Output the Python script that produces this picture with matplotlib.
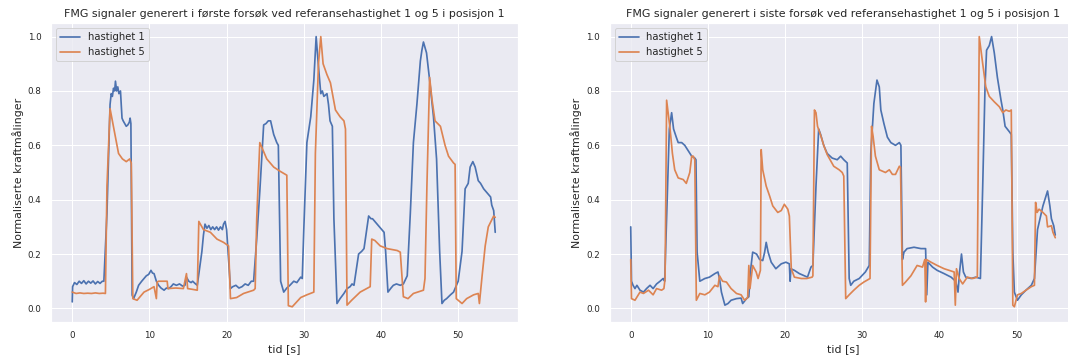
import matplotlib
matplotlib.use("Agg")
import matplotlib.pyplot as plt
import seaborn as sns

sns.set_theme()
plt.rcParams['font.family'] = ['DejaVu Sans']

title_first = "FMG signaler generert i første forsøk ved referansehastighet 1 og 5 i posisjon 1"
title_last = "FMG signaler generert i siste forsøk ved referansehastighet 1 og 5 i posisjon 1"
xlabel = "tid [s]"
ylabel = "Normaliserte kraftmålinger"
legend_labels = ["hastighet 1", "hastighet 5"]
xticks = [0, 10, 20, 30, 40, 50]
yticks = [0.0, 0.2, 0.4, 0.6, 0.8, 1.0]

# ---- first trial, speed 1 ----
t_first_h1 = [0.0, 0.05, 0.3, 0.6, 0.9, 1.2, 1.5, 1.8, 2.1, 2.4, 2.7, 3.0, 3.3, 3.6, 3.9, 4.1,
              4.5, 4.9, 5.05, 5.2, 5.35, 5.5, 5.6, 5.75, 5.9, 6.05, 6.25, 6.35, 6.45, 6.6, 6.8, 7.0, 7.2, 7.4, 7.5, 7.6,
              7.76,
              7.95, 8.3, 8.6, 9.0, 9.3, 9.6, 9.9, 10.2, 10.4, 10.6, 10.9, 11.2, 11.5, 11.9, 12.2, 12.5, 12.8, 13.1, 13.5,
              13.9, 14.3, 14.6, 14.8, 15.1, 15.4, 15.6, 15.9, 16.2,
              16.8, 17.0, 17.2, 17.45, 17.7, 17.95, 18.2, 18.45, 18.7, 18.95, 19.2, 19.45, 19.6, 19.8, 20.0, 20.5,
              20.8, 21.2, 21.6, 22.0, 22.4, 22.8, 23.2, 23.5, 23.9, 24.3, 24.8, 25.1, 25.4, 25.7, 26.1, 26.5, 26.7,
              27.0, 27.4, 27.8, 28.2, 28.7, 29.1, 29.6, 29.8, 30.0, 30.4, 30.9, 31.3, 31.6, 31.9, 32.2, 32.4, 32.6, 32.8,
              33.0, 33.2, 33.4, 33.7, 33.9, 34.3, 34.7, 35.2, 35.6, 36.0, 36.25, 36.5, 37.1, 37.5, 37.8, 38.1, 38.4, 38.7,
              38.9, 39.2, 39.5, 39.8, 40.1, 40.4, 40.6, 40.9, 41.3, 41.6, 42.0, 42.5, 42.9, 43.4, 43.8, 44.2, 44.65, 45.1,
              45.3, 45.5, 45.7, 45.9, 46.3, 46.8, 47.2, 47.6, 47.9, 48.2, 48.5, 49.0, 49.4, 49.7, 50.0, 50.5, 50.9, 51.1,
              51.3, 51.55, 51.9, 52.2, 52.6, 52.9, 53.3, 53.6, 53.9, 54.2, 54.35, 54.6, 54.8]
v_first_h1 = [0.024, 0.08, 0.095, 0.088, 0.1, 0.092, 0.102, 0.09, 0.1, 0.093, 0.101, 0.09, 0.099, 0.092, 0.1, 0.1,
              0.35, 0.75, 0.79, 0.78, 0.81, 0.80, 0.836, 0.80, 0.815, 0.79, 0.80, 0.75, 0.70, 0.69, 0.68, 0.67, 0.675,
              0.685, 0.70, 0.68, 0.049,
              0.036, 0.06, 0.085, 0.10, 0.11, 0.12, 0.125, 0.14, 0.13, 0.128, 0.10, 0.085, 0.075, 0.067, 0.075, 0.073,
              0.08, 0.09, 0.085, 0.09, 0.082, 0.085, 0.115, 0.10, 0.095, 0.10, 0.092, 0.085,
              0.21, 0.27, 0.31, 0.295, 0.305, 0.29, 0.30, 0.29, 0.30, 0.288, 0.30, 0.29, 0.31, 0.32, 0.29, 0.073,
              0.08, 0.085, 0.075, 0.08, 0.09, 0.085, 0.1, 0.1, 0.255, 0.43, 0.675, 0.68, 0.69, 0.69, 0.64, 0.61, 0.60,
              0.1, 0.06, 0.075, 0.085, 0.1, 0.095, 0.115, 0.11, 0.29, 0.61, 0.705, 0.84, 1.0, 0.89, 0.79, 0.80, 0.78, 0.785,
              0.79, 0.75, 0.69, 0.67, 0.33, 0.018, 0.036, 0.055, 0.073, 0.08, 0.09, 0.085, 0.2, 0.21, 0.22, 0.28, 0.34,
              0.33, 0.33, 0.32, 0.31, 0.30, 0.29, 0.28, 0.21, 0.06, 0.075, 0.085, 0.09, 0.085, 0.09, 0.12, 0.35, 0.61, 0.75,
              0.91, 0.95, 0.98, 0.96, 0.94, 0.84, 0.705, 0.55, 0.21, 0.018, 0.03, 0.036, 0.05, 0.06, 0.08, 0.1, 0.21, 0.44,
              0.45, 0.46, 0.52, 0.54, 0.52, 0.47, 0.46, 0.44, 0.43, 0.42, 0.41, 0.38, 0.36, 0.28]

# ---- first trial, speed 5 ----
t_first_h5 = [0.0, 0.5, 1.0, 1.5, 2.0, 2.5, 3.0, 3.5, 4.0, 4.3, 4.5, 4.9, 5.2, 5.6, 6.0, 6.5, 7.0, 7.45, 7.65, 7.85,
              8.4, 9.3, 10.0, 10.6, 10.9, 11.0, 11.2, 12.3, 12.4, 13.4, 14.4, 14.8, 14.95, 15.6, 16.2, 16.4, 17.0, 17.9,
              18.75, 19.6, 20.25, 20.5, 21.3, 22.2, 23.5, 23.7, 23.9, 24.3, 24.6, 25.2, 26.1, 26.9, 27.8, 28.0, 28.5,
              29.6, 30.4, 31.3, 31.5, 31.9, 32.2, 32.5, 33.0, 33.45, 34.1, 34.7, 35.2, 35.4, 35.6, 36.2, 37.3, 38.6,
              38.8, 39.2, 39.9, 40.8, 42.1, 42.5, 42.9, 43.5, 44.2, 45.5, 45.7, 45.95, 46.3, 46.6, 47.0, 47.7, 48.3,
              48.75, 49.4, 49.6, 49.75, 50.5, 51.1, 52.0, 52.6, 52.75, 53.1, 53.5, 53.9, 54.6, 54.8]
v_first_h5 = [0.06, 0.055, 0.057, 0.055, 0.056, 0.055, 0.057, 0.055, 0.056, 0.055, 0.45, 0.735, 0.69, 0.63, 0.57, 0.55,
              0.54, 0.55, 0.535, 0.036, 0.03, 0.06, 0.07, 0.08, 0.036, 0.097, 0.1, 0.1, 0.073, 0.075, 0.073, 0.128, 0.073,
              0.07, 0.067, 0.32, 0.29, 0.28, 0.255, 0.243, 0.23, 0.036, 0.04, 0.055, 0.067, 0.073, 0.33, 0.61, 0.59, 0.55,
              0.52, 0.505, 0.49, 0.01, 0.006, 0.04, 0.05, 0.06, 0.57, 0.9, 1.0, 0.9, 0.86, 0.83, 0.73, 0.705, 0.69, 0.66,
              0.012, 0.03, 0.06, 0.08, 0.255, 0.25, 0.23, 0.22, 0.213, 0.207, 0.043, 0.036, 0.055, 0.067, 0.11, 0.45,
              0.85, 0.77, 0.69, 0.67, 0.6, 0.56, 0.535, 0.53, 0.036, 0.018, 0.036, 0.05, 0.055, 0.018, 0.12, 0.23, 0.3,
              0.34, 0.335]

# ---- last trial, speed 1 ----
t_last_h1 = [0.0, 0.1, 0.3, 0.55, 0.8, 1.2, 1.65, 2.05, 2.5, 2.9, 3.35, 3.8, 4.2, 4.4, 4.65, 5.0, 5.3, 5.55, 5.9, 6.15, 6.6,
             7.0, 7.45, 7.9, 8.3, 8.45, 8.6, 8.95, 9.6, 10.2, 10.9, 11.3, 11.5, 11.75, 12.2, 12.6, 13.0, 13.7, 14.3, 14.5,
             15.0, 15.3, 15.5, 15.8, 16.3, 16.7, 17.1, 17.35, 17.55, 17.8, 18.2, 18.8, 19.5, 20.1, 20.55, 20.65, 20.75,
             21.2, 21.85, 22.5, 22.9, 23.35, 23.6, 24.0, 24.35, 24.6, 25.0, 25.45, 26.1, 26.75, 27.2, 27.6, 28.05, 28.3,
             28.5, 28.9, 29.6, 30.4, 30.9, 31.1, 31.5, 31.9, 32.2, 32.4, 32.8, 33.25, 33.7, 34.3, 34.8, 35.0, 35.2, 35.4,
             35.8, 36.7, 37.6, 38.2, 38.35, 38.5, 39.1, 39.7, 40.6, 41.5, 42.1, 42.4, 42.6, 42.85, 43.1, 43.4, 44.1, 44.7,
             45.3, 45.6, 45.9, 46.1, 46.45, 46.75, 47.1, 47.5, 47.97, 48.2, 48.5, 49.05, 49.3, 49.5, 49.7, 50.1, 50.6, 51.2,
             51.9, 52.3, 52.7, 53.4, 54.0, 54.3, 54.5, 54.8, 55.0]
v_last_h1 = [0.30, 0.1, 0.085, 0.073, 0.085, 0.067, 0.06, 0.073, 0.085, 0.073, 0.09, 0.1, 0.11, 0.1, 0.33, 0.66, 0.72, 0.66,
             0.63, 0.61, 0.61, 0.6, 0.58, 0.56, 0.553, 0.547, 0.207, 0.1, 0.11, 0.115, 0.128, 0.134, 0.11, 0.06, 0.012, 0.018,
             0.03, 0.036, 0.038, 0.018, 0.036, 0.043, 0.134, 0.207, 0.2, 0.18, 0.176, 0.207, 0.243, 0.207, 0.17, 0.146, 0.164,
             0.17, 0.164, 0.1, 0.146, 0.14, 0.128, 0.12, 0.115, 0.152, 0.158, 0.45, 0.66, 0.64, 0.6, 0.57, 0.553, 0.547, 0.56,
             0.547, 0.535, 0.11, 0.085, 0.1, 0.11, 0.134, 0.158, 0.57, 0.754, 0.84, 0.815, 0.73, 0.68, 0.63, 0.61, 0.6, 0.61,
             0.6, 0.18, 0.207, 0.22, 0.225, 0.22, 0.22, 0.05, 0.17, 0.152, 0.14, 0.128, 0.115, 0.1, 0.06, 0.134, 0.2, 0.134,
             0.115, 0.11, 0.115, 0.11, 0.45, 0.815, 0.95, 0.967, 1.0, 0.94, 0.85, 0.766, 0.73, 0.67, 0.65, 0.64, 0.207, 0.06,
             0.03, 0.05, 0.067, 0.085, 0.11, 0.29, 0.377, 0.432, 0.377, 0.33, 0.304, 0.27]

# ---- last trial, speed 5 ----
t_last_h5 = [0.0, 0.1, 0.55, 1.2, 1.65, 2.3, 2.9, 3.35, 4.0, 4.3, 4.45, 4.65, 5.1, 5.4, 5.7, 6.15, 6.8, 7.2, 7.65, 7.9, 8.1,
             8.3, 8.5, 8.95, 9.6, 10.2, 10.9, 11.3, 11.5, 11.9, 12.4, 13.0, 13.7, 14.3, 14.75, 15.15, 15.3, 15.45, 15.8,
             16.25, 16.5, 16.8, 16.9, 17.1, 17.55, 18.0, 18.4, 19.05, 19.5, 19.9, 20.35, 20.55, 20.7, 20.8, 21.2, 22.1,
             22.8, 23.5, 23.6, 23.8, 24.0, 24.2, 24.65, 25.0, 25.45, 26.3, 27.0, 27.4, 27.6, 27.85, 28.3, 28.9, 29.6, 30.2,
             31.0, 31.2, 31.4, 31.7, 32.2, 32.6, 33.0, 33.5, 33.9, 34.3, 34.8, 34.95, 35.2, 35.6, 36.3, 37.1, 37.8, 38.1,
             38.2, 38.3, 38.9, 39.7, 40.6, 41.25, 41.9, 42.05, 42.2, 42.55, 43.0, 43.6, 44.3, 44.9, 45.15, 45.6, 46.0,
             46.45, 47.1, 47.75, 48.2, 48.6, 49.05, 49.3, 49.5, 49.7, 50.1, 50.6, 51.2, 51.9, 52.3, 52.45, 52.65, 52.9,
             53.4, 53.85, 54.0, 54.5, 54.7, 55.0]
v_last_h5 = [0.18, 0.036, 0.03, 0.06, 0.055, 0.067, 0.05, 0.073, 0.067, 0.073, 0.11, 0.766, 0.66, 0.57, 0.51, 0.48, 0.474,
             0.46, 0.5, 0.56, 0.56, 0.547, 0.03, 0.055, 0.05, 0.06, 0.085, 0.08, 0.12, 0.1, 0.097, 0.073, 0.055, 0.05, 0.03,
             0.04, 0.158, 0.073, 0.158, 0.134, 0.11, 0.14, 0.584, 0.51, 0.45, 0.413, 0.377, 0.353, 0.36, 0.383, 0.365, 0.34,
             0.22, 0.146, 0.115, 0.11, 0.11, 0.115, 0.12, 0.73, 0.72, 0.67, 0.633, 0.6, 0.566, 0.523, 0.51, 0.5, 0.487,
             0.036, 0.05, 0.067, 0.085, 0.097, 0.11, 0.67, 0.633, 0.56, 0.51, 0.505, 0.5, 0.51, 0.493, 0.493, 0.523, 0.52,
             0.085, 0.097, 0.12, 0.158, 0.152, 0.18, 0.024, 0.18, 0.17, 0.158, 0.146, 0.14, 0.134, 0.012, 0.146, 0.11, 0.09,
             0.115, 0.11, 0.115, 1.0, 0.9, 0.815, 0.78, 0.76, 0.742, 0.72, 0.73, 0.725, 0.73, 0.012, 0.006, 0.05, 0.055,
             0.067, 0.08, 0.085, 0.39, 0.353, 0.365, 0.353, 0.34, 0.3, 0.304, 0.28, 0.26]

W, H = 1068, 360
fig = plt.figure(figsize=(W / 72, H / 72), dpi=72)
ax1 = fig.add_axes([51 / W, 38 / H, 467 / W, 299 / H])
ax2 = fig.add_axes([609.5 / W, 38 / H, 467 / W, 299 / H])

panels = [
    (ax1, title_first, t_first_h1, v_first_h1, t_first_h5, v_first_h5),
    (ax2, title_last, t_last_h1, v_last_h1, t_last_h5, v_last_h5),
]
for ax, title, ta, va, tb, vb in panels:
    ax.plot(ta, va, label=legend_labels[0], color="#4C72B0", linewidth=1.7)
    ax.plot(tb, vb, label=legend_labels[1], color="#DD8452", linewidth=1.7)
    ax.set_xlim(-2.75, 57.75)
    ax.set_ylim(-0.05, 1.05)
    ax.set_xticks(xticks)
    ax.set_yticks(yticks)
    ax.tick_params(labelsize=8.8)
    ax.set_title(title, fontsize=11, pad=6)
    ax.set_xlabel(xlabel, fontsize=11)
    ax.set_ylabel(ylabel, fontsize=11)
    ax.legend(loc="upper left", fontsize=10)

fig.savefig("out.png", dpi=72)
